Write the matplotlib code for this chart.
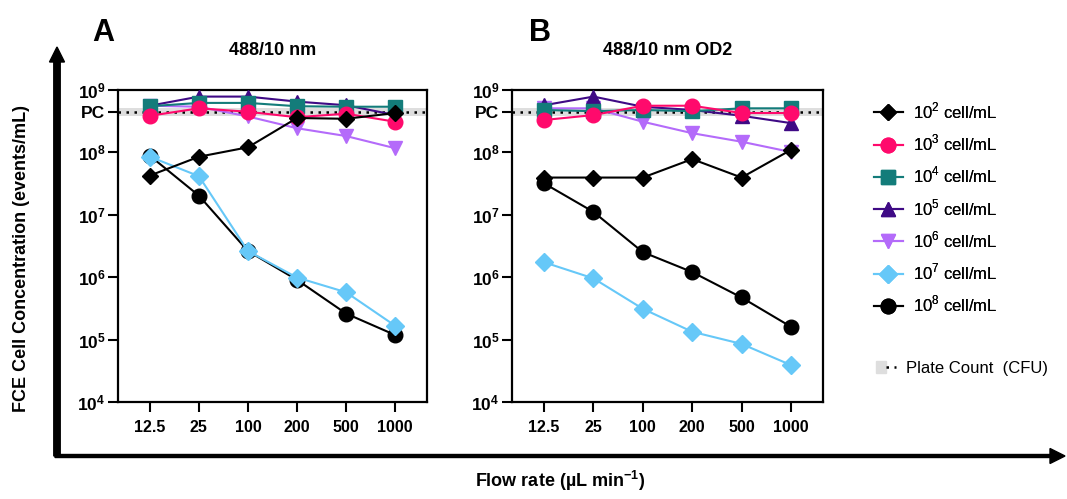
import numpy as np
import matplotlib
matplotlib.use("Agg")
import matplotlib.pyplot as plt
from matplotlib.lines import Line2D
from matplotlib.patches import Patch, FancyArrow
from matplotlib.legend_handler import HandlerTuple

plt.rcParams['font.family'] = ['Liberation Sans', 'DejaVu Sans']
plt.rcParams['mathtext.fontset'] = 'custom'
plt.rcParams['mathtext.rm'] = 'Liberation Sans'
plt.rcParams['mathtext.bf'] = 'Liberation Sans:bold'

flow_rates = ['12.5', '25', '100', '200', '500', '1000']
plate_count = 4.4e8

# panel A: 488/10 nm
a_1e2 = [4.2e7, 8.4e7, 1.19e8, 3.5e8, 3.4e8, 4.2e8]
a_1e3 = [3.8e8, 5.0e8, 4.4e8, 3.6e8, 4.1e8, 3.05e8]
a_1e4 = [5.4e8, 6.1e8, 6.1e8, 5.4e8, 5.3e8, 5.3e8]
a_1e5 = [5.5e8, 7.7e8, 7.7e8, 6.4e8, 5.6e8, 3.9e8]
a_1e6 = [5.5e8, 5.3e8, 3.7e8, 2.4e8, 1.8e8, 1.15e8]
a_1e7 = [8.4e7, 4.1e7, 2.6e6, 9.8e5, 5.7e5, 1.66e5]
a_1e8 = [8.7e7, 2.0e7, 2.6e6, 9.0e5, 2.6e5, 1.18e5]

# panel B: 488/10 nm OD2
b_1e2 = [3.9e7, 3.9e7, 3.9e7, 7.7e7, 3.9e7, 1.08e8]
b_1e3 = [3.25e8, 3.9e8, 5.5e8, 5.5e8, 4.2e8, 4.2e8]
b_1e4 = [4.7e8, 4.5e8, 4.7e8, 4.5e8, 5.0e8, 5.0e8]
b_1e5 = [5.6e8, 7.7e8, 5.3e8, 4.7e8, 3.8e8, 2.9e8]
b_1e6 = [5.0e8, 5.0e8, 3.05e8, 2.0e8, 1.46e8, 1.0e8]
b_1e7 = [1.72e6, 9.5e5, 3.1e5, 1.33e5, 8.5e4, 3.9e4]
b_1e8 = [3.15e7, 1.1e7, 2.5e6, 1.2e6, 4.7e5, 1.6e5]

labels = [r'10$^{%d}$ cell/mL' % k for k in range(2, 9)]
colors = ['black', '#FF0A6C', '#137C7A', '#3F0A85', '#B46BFA', '#66C8F8', 'black']
markers = ['D', 'o', 's', '^', 'v', 'D', 'o']
msizes = [8, 10.5, 9.5, 10, 10, 9, 10.5]

fig = plt.figure(figsize=(10.67, 4.99), dpi=100)
W, H = 1067, 499


def panel(left, right, series, title, letter, letter_x):
    ax = fig.add_axes([left / W, 1 - 402 / H, (right - left) / W, (402 - 89.5) / H])
    x = np.arange(len(flow_rates))
    lines = []
    # draw highest concentration first so 10^2 ends on top
    for i in range(len(series) - 1, -1, -1):
        ln, = ax.plot(x, series[i], color=colors[i], marker=markers[i], ms=msizes[i],
                      lw=1.5, zorder=3 + (len(series) - i) * 0.1, clip_on=False)
        lines.append(ln)
    lines = lines[::-1]
    ax.axhspan(plate_count / 1.17, plate_count * 1.17, color='#DEDEDE', lw=0, zorder=1)
    ax.axhline(plate_count, color='black', lw=1.8, ls=(0, (1, 2.2)), zorder=2)
    ax.set_yscale('log')
    ax.set_ylim(1e4, 1e9)
    ax.set_xlim(-0.65, 5.65)
    ax.set_xticks(x)
    ax.set_xticklabels(flow_rates, fontweight='bold', fontsize=11.5)
    ax.set_yticks([1e4, 1e5, 1e6, 1e7, 1e8, plate_count, 1e9])
    ax.set_yticklabels([r'$\mathbf{10^{%d}}$' % k for k in range(4, 9)] + ['PC', r'$\mathbf{10^{9}}$'],
                       fontweight='bold', fontsize=12.5)
    ax.minorticks_off()
    ax.tick_params(axis='y', length=7, width=1.5, pad=2)
    ax.tick_params(axis='x', length=7, width=1.5, pad=6)
    for s in ax.spines.values():
        s.set_linewidth(1.6)
    ax.set_title(title, fontweight='bold', fontsize=13, pad=25)
    fig.text(letter_x / W, 1 - 33 / H, letter, fontweight='bold', fontsize=22,
             ha='center', va='center')
    return ax, lines


axA, lines = panel(118, 427, [a_1e2, a_1e3, a_1e4, a_1e5, a_1e6, a_1e7, a_1e8],
                   '488/10 nm', 'A', 103)
axB, _ = panel(512, 823, [b_1e2, b_1e3, b_1e4, b_1e5, b_1e6, b_1e7, b_1e8],
               '488/10 nm OD2', 'B', 540)

# legend
leg = fig.legend(lines, labels, loc='upper left', bbox_to_anchor=(867 / W, 1 - 94 / H),
                 frameon=False, fontsize=12, handlelength=1.75, handletextpad=0.6,
                 labelspacing=0.7, borderaxespad=0)
fig.add_artist(leg)
pc_handle = (Patch(color='#DEDEDE'), Line2D([], [], color='black', lw=1.8, ls=(0, (1, 2.2))))
fig.legend([pc_handle], ['Plate Count  (CFU)'], loc='upper left',
           bbox_to_anchor=(869 / W, 1 - 354 / H), frameon=False, fontsize=12,
           handlelength=1.2, handletextpad=0.6, borderaxespad=0,
           handler_map={tuple: HandlerTuple(ndivide=None, pad=0)})

# outer arrows
fig.patches.append(FancyArrow(
    57 / W, 1 - 456 / H, 0, (456 - 62) / H, width=3 / H, head_width=15 / W,
    head_length=15 / H, length_includes_head=False, color='black',
    transform=fig.transFigure, figure=fig))
fig.patches.append(FancyArrow(
    55 / W, 1 - 456 / H, (1050 - 55) / W, 0, width=3 / H, head_width=15 / H,
    head_length=15 / W, length_includes_head=False, color='black',
    transform=fig.transFigure, figure=fig))

fig.text(22 / W, 1 - 259 / H, 'FCE Cell Concentration (events/mL)', rotation=90,
         fontweight='bold', fontsize=13, ha='center', va='center')
fig.text(560 / W, 1 - 481 / H, r'Flow rate (µL min$^{\mathbf{-1}}$)', fontweight='bold',
         fontsize=13, ha='center', va='center')

fig.savefig('out.png', dpi=100)
